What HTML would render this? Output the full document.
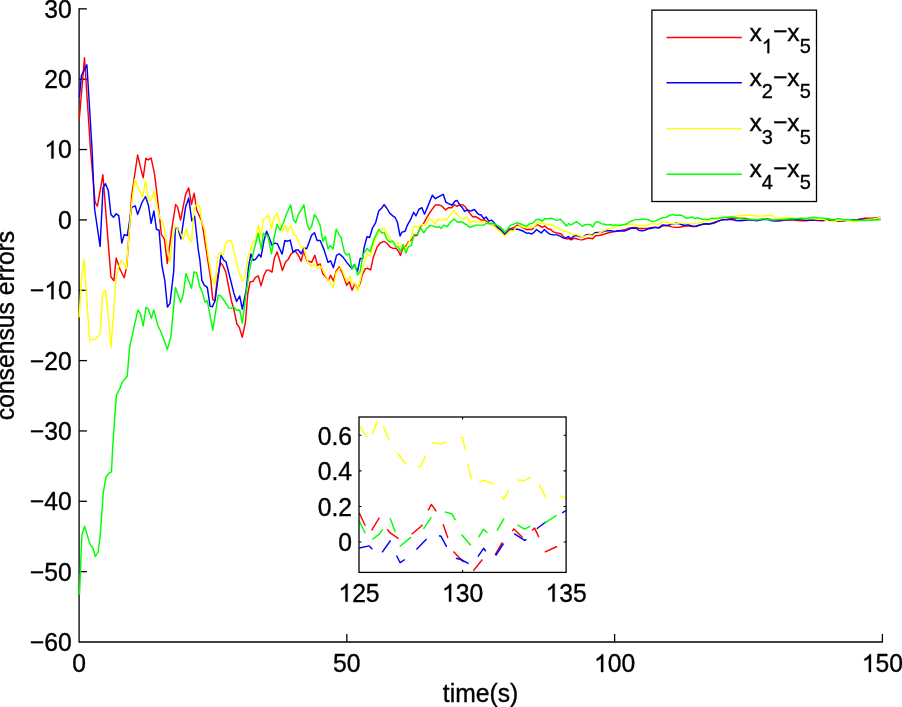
<!DOCTYPE html><html><head><meta charset="utf-8"><style>html,body{margin:0;padding:0;background:#fff;overflow:hidden}svg{display:block;will-change:transform}text{font-family:"Liberation Sans",sans-serif;fill:#000;stroke:#000;stroke-width:0.35px}</style></head><body>
<svg width="902" height="707" viewBox="0 0 902 707">
<rect width="902" height="707" fill="#fff"/>
<g stroke="#000" stroke-width="1.30" fill="none">
<path d="M79.10 8.25V642.00H882.90"/>
</g><g stroke="#000" stroke-width="1.3" fill="none">
<path d="M79.10 8.85H86.90"/>
<path d="M79.10 79.20H86.90"/>
<path d="M79.10 149.55H86.90"/>
<path d="M79.10 219.90H86.90"/>
<path d="M79.10 290.25H86.90"/>
<path d="M79.10 360.60H86.90"/>
<path d="M79.10 430.95H86.90"/>
<path d="M79.10 501.30H86.90"/>
<path d="M79.10 571.65H86.90"/>
<path d="M346.83 642.00V634.00"/>
<path d="M614.62 642.00V634.00"/>
<path d="M882.40 642.00V634.00"/>
</g>
<polyline points="79.4,117.7 84.5,57.8 90.5,150.0 95.1,202.4 97.4,206.1 102.9,174.8 110.9,276.7 113.9,280.7 116.2,257.9 119.8,268.8 124.2,277.7 126.7,266.8 131.7,195.5 137.6,155.0 141.6,171.8 143.2,177.7 145.9,158.3 148.5,159.9 151.1,157.9 154.5,173.8 157.4,197.5 159.8,219.5 161.4,234.7 164.4,239.1 167.3,263.4 172.3,225.7 175.6,204.5 177.5,206.9 180.6,220.1 185.6,194.4 188.7,187.9 191.5,204.5 194.1,193.2 196.7,210.0 201.9,221.6 207.3,257.1 210.7,278.9 212.8,299.9 214.8,300.7 217.4,278.1 220.5,262.6 222.9,265.7 225.7,271.9 228.3,285.1 231.4,300.7 233.8,309.2 236.9,324.0 239.2,327.1 242.3,337.2 245.4,322.4 247.8,293.7 250.1,282.0 253.2,281.2 255.5,277.3 258.3,275.8 261.0,285.9 264.1,275.0 266.6,270.1 268.9,270.1 272.0,272.1 274.3,258.4 277.1,251.9 279.8,260.8 282.4,270.6 285.5,262.3 288.3,259.2 291.1,253.8 295.3,251.0 298.4,255.3 301.1,261.2 303.6,251.4 307.0,260.8 310.1,261.8 311.7,262.3 314.8,255.3 317.6,265.4 320.2,263.9 322.9,274.0 325.7,276.8 328.5,280.2 330.6,275.2 333.4,281.0 336.2,270.9 339.3,267.0 342.8,274.0 346.6,285.2 349.3,281.8 352.1,290.3 354.9,283.3 357.5,289.5 360.3,283.0 362.3,274.9 365.4,268.6 367.8,268.3 370.6,269.9 373.2,257.8 377.1,246.9 380.2,243.0 384.1,241.4 386.7,243.0 390.3,247.2 393.0,248.4 396.1,248.1 398.6,251.5 400.4,255.4 402.8,248.4 405.9,246.1 408.2,242.2 411.3,239.9 414.1,235.7 417.2,235.2 420.7,226.3 423.8,223.2 426.9,217.3 430.8,211.1 435.4,204.9 439.3,204.9 442.4,206.4 445.5,209.9 448.6,207.7 451.8,207.7 454.1,204.6 457.2,206.4 459.7,204.6 462.8,204.9 465.1,206.7 467.1,209.5 469.8,213.4 472.9,217.0 475.2,216.5 478.3,218.1 481.4,220.1 484.5,219.7 487.7,222.3 490.0,223.9 492.3,225.1 495.4,225.9 498.5,228.5 501.7,231.3 504.5,233.7 507.9,229.8 511.0,228.5 514.1,227.4 517.2,225.1 520.3,226.3 523.4,228.2 526.5,229.5 529.3,229.5 532.0,229.5 534.3,227.4 537.1,224.3 539.8,225.9 542.1,227.4 544.9,225.9 547.5,228.5 550.6,229.5 552.8,231.6 555.5,232.7 558.3,233.2 561.1,234.0 563.9,236.9 566.6,239.1 568.8,238.5 571.3,239.9 573.8,238.2 576.6,238.8 579.4,239.6 582.2,239.9 585.5,238.8 588.8,238.0 592.7,238.8 595.5,235.8 598.8,235.5 602.1,234.7 605.4,233.8 608.8,232.7 612.1,232.1 615.4,231.6 618.7,230.7 622.1,230.3 625.4,229.4 628.7,228.3 632.0,227.7 635.4,227.4 638.7,228.3 642.0,228.5 645.3,228.5 648.3,228.3 651.7,227.4 655.0,227.2 658.9,228.0 662.7,225.8 667.2,225.5 671.6,226.9 676.0,227.4 679.4,227.2 683.8,226.3 688.2,225.8 692.7,226.6 696.0,226.6 700.4,224.9 704.9,224.0 709.3,224.0 713.7,223.3 718.2,221.1 722.6,219.6 727.0,219.2 731.5,218.5 735.9,218.5 740.3,218.3 745.5,218.5 751.1,219.6 756.6,220.3 762.2,219.4 767.7,218.8 773.3,220.3 778.8,221.1 784.3,220.3 789.9,219.6 795.4,220.3 801.0,220.7 806.5,220.7 812.1,219.9 817.6,220.5 823.1,220.7 828.7,219.9 834.2,220.3 838.6,221.4 845.0,220.5 852.0,219.8 858.0,219.5 864.6,218.3 871.3,218.3 879.9,217.4" fill="none" stroke="#f00" stroke-width="1.45" stroke-linejoin="round" stroke-linecap="round"/>
<polyline points="79.4,96.7 81.4,75.7 86.9,64.8 92.1,150.0 94.6,209.0 100.1,246.4 103.0,187.6 105.5,183.7 108.3,190.6 110.9,214.4 113.5,217.3 116.2,213.8 118.8,215.7 121.8,243.1 124.2,234.8 127.3,235.5 131.7,207.4 135.2,205.8 137.6,214.4 142.0,202.5 145.5,196.5 148.5,205.4 151.1,223.3 153.9,211.0 156.4,229.2 159.1,230.2 161.9,265.5 164.8,280.3 167.4,307.0 170.0,303.3 173.7,271.4 175.3,228.7 177.8,227.9 180.9,238.8 185.6,206.9 188.7,197.9 191.8,220.9 194.6,216.2 198.3,250.0 199.9,260.2 201.9,280.4 204.2,285.1 207.3,287.4 210.1,306.1 212.3,306.9 215.1,300.7 221.0,255.2 223.7,260.2 226.0,261.8 229.9,277.3 233.8,292.9 236.6,301.4 239.7,296.0 242.3,309.2 246.2,289.8 248.5,267.2 250.9,254.0 253.2,260.2 255.5,259.4 259.0,254.3 261.0,257.1 264.1,240.0 266.6,231.2 268.9,236.7 272.0,245.2 274.6,243.1 277.4,243.7 282.1,254.1 284.9,240.5 287.6,241.3 290.2,240.1 293.0,252.2 296.1,249.9 298.4,249.9 301.1,253.8 303.9,247.9 306.7,248.8 311.7,235.1 314.5,232.8 317.1,240.5 320.2,240.5 324.1,249.9 328.0,262.3 330.6,260.8 333.4,267.8 336.5,255.3 339.3,253.8 342.8,256.9 347.4,263.1 351.8,268.5 354.4,264.7 357.5,271.6 360.2,258.4 362.7,258.4 363.9,248.4 367.0,236.8 369.6,237.5 372.4,228.2 375.6,222.8 378.7,211.1 381.8,208.0 384.1,204.6 386.7,208.0 389.9,213.4 392.7,215.8 395.0,217.3 397.3,222.0 400.1,236.0 402.0,232.1 405.1,231.3 407.4,225.1 410.5,219.7 413.7,212.3 416.0,215.8 418.8,209.5 421.9,207.7 424.5,214.2 428.4,204.9 432.3,195.2 435.4,198.7 439.3,196.3 443.2,194.3 445.8,202.1 448.6,203.6 451.8,205.2 455.2,201.0 457.2,200.5 459.7,204.9 462.0,207.2 464.6,211.4 467.4,209.9 470.6,211.1 474.4,209.5 478.3,214.2 481.1,215.0 483.8,218.6 486.1,217.0 488.9,221.2 491.5,220.1 494.2,222.8 497.0,226.7 500.1,229.0 502.4,231.3 504.8,234.4 507.1,232.6 509.7,229.8 512.9,229.5 516.0,229.0 518.8,229.5 523.4,231.3 526.5,233.2 528.9,232.9 531.5,234.1 534.3,232.1 536.6,229.5 539.0,231.3 541.3,232.9 544.4,229.5 547.5,232.6 550.6,234.4 553.3,234.7 556.7,234.9 560.0,236.2 562.7,237.7 565.5,238.2 568.3,236.6 571.1,238.8 573.8,236.0 576.6,235.5 579.9,236.6 583.3,236.6 586.6,234.7 589.4,234.4 592.1,235.5 594.9,232.7 597.7,232.5 601.0,232.5 604.3,231.0 607.6,230.7 611.0,230.7 614.3,231.4 617.6,230.7 621.0,231.0 624.3,231.0 627.6,229.9 630.9,228.3 634.3,228.0 636.5,228.3 638.7,230.3 642.0,230.7 645.3,230.2 648.3,228.8 651.7,228.3 655.0,227.4 658.9,227.7 662.7,224.9 667.2,225.5 671.6,224.4 676.0,223.3 679.4,223.8 683.8,225.2 688.2,224.7 692.7,226.3 696.0,226.3 700.4,224.7 704.9,223.8 709.3,224.0 713.7,222.7 718.2,221.1 722.6,219.6 727.0,219.9 731.5,219.2 735.9,220.5 740.3,220.8 745.5,220.3 751.1,219.9 756.6,220.7 762.2,219.6 767.7,219.6 773.3,221.1 778.8,220.5 784.3,219.6 789.9,219.9 795.4,219.6 801.0,219.6 806.5,220.3 812.1,220.3 817.6,219.9 823.1,220.3 828.7,220.3 834.2,219.9 840.0,220.7 850.0,220.3 863.3,219.3 879.9,219.4" fill="none" stroke="#00f" stroke-width="1.45" stroke-linejoin="round" stroke-linecap="round"/>
<polyline points="79.1,316.9 81.9,274.9 84.2,259.3 86.9,301.3 89.7,340.2 91.6,339.9 95.0,339.4 100.1,334.0 102.7,292.8 105.5,290.4 107.9,312.2 111.0,347.2 116.1,278.0 118.8,266.3 121.4,260.6 124.2,264.0 126.5,268.7 129.7,224.7 131.7,203.5 134.8,179.5 142.6,197.5 145.5,180.7 148.6,200.5 151.1,200.5 153.9,191.2 157.4,207.4 160.0,218.4 161.4,219.8 164.4,227.7 166.9,244.6 169.8,261.9 172.8,236.6 175.3,226.2 179.3,230.2 183.2,239.5 186.3,228.3 188.7,238.0 191.5,241.9 194.1,208.4 196.7,204.5 199.5,206.1 201.9,222.4 204.5,228.6 208.1,255.6 211.7,277.3 215.1,285.1 218.2,254.8 220.5,252.4 223.2,254.8 225.7,243.1 227.5,240.8 231.4,240.8 235.3,257.1 238.4,270.3 242.3,281.2 245.4,275.0 247.8,257.1 250.1,252.4 252.8,241.8 255.5,240.0 258.3,225.2 261.0,236.4 263.3,219.3 265.0,218.0 268.9,215.2 271.5,228.9 274.3,217.2 277.1,212.6 279.8,222.7 282.4,230.4 284.9,225.5 287.6,231.7 290.7,225.5 293.8,235.1 296.1,235.9 300.8,246.8 303.9,246.8 305.7,255.3 308.2,263.1 311.3,266.5 314.5,264.3 317.9,268.5 321.0,266.2 324.1,272.4 327.2,278.6 330.0,281.8 333.1,288.0 336.2,272.4 338.9,269.3 341.2,267.4 344.3,275.5 346.6,281.8 349.8,276.3 352.1,284.1 354.9,283.0 357.5,291.1 361.0,277.0 363.9,264.0 367.0,254.3 370.1,255.9 373.2,245.3 376.3,236.8 379.9,231.3 384.1,227.9 386.7,233.7 389.9,239.1 392.7,241.4 395.0,244.5 397.3,242.5 400.1,246.9 402.3,245.0 405.9,248.4 409.5,241.0 411.6,236.3 413.7,226.3 416.8,227.0 419.9,225.9 422.2,224.3 425.3,225.1 429.2,218.6 432.3,220.7 435.4,223.9 437.8,218.9 440.9,220.4 444.0,218.9 446.3,220.4 449.4,216.1 453.6,210.3 457.3,215.0 460.4,217.3 463.6,218.9 467.1,216.5 469.8,222.8 472.4,221.2 476.0,221.7 479.9,222.0 483.0,222.3 486.1,222.8 488.4,223.5 491.5,224.3 494.7,226.7 497.0,229.5 500.1,231.3 502.4,233.7 504.8,236.3 507.9,232.9 510.7,230.5 513.8,231.0 516.4,226.7 520.3,225.9 523.4,227.4 527.3,227.4 531.2,226.7 534.3,227.4 536.6,223.5 539.8,223.2 543.3,223.5 546.8,224.3 550.3,224.6 553.3,225.5 556.7,227.4 560.0,229.4 563.3,231.0 566.6,231.6 569.4,232.7 572.7,234.4 576.1,234.4 578.8,235.5 582.7,236.9 586.6,235.8 589.9,234.9 592.1,236.6 594.9,234.0 597.7,233.6 601.0,232.1 604.3,230.3 607.6,229.1 611.0,228.3 614.3,227.2 617.6,225.8 621.0,224.4 623.2,224.4 626.5,224.9 629.8,224.0 633.1,224.4 635.9,224.9 638.7,225.8 642.0,225.8 645.3,225.5 648.3,224.7 651.7,223.6 655.0,223.8 658.3,224.9 662.7,221.6 667.2,222.2 671.6,223.8 676.0,223.6 680.5,222.9 684.9,223.6 689.3,223.6 693.8,224.0 698.2,223.3 702.6,221.6 707.1,221.1 711.5,220.3 716.0,219.6 720.4,218.5 724.8,217.4 729.3,216.6 733.7,216.6 738.1,215.8 741.5,215.5 745.5,215.5 751.1,215.0 756.6,216.3 762.2,216.1 767.7,215.5 772.2,215.5 775.5,217.7 779.9,218.1 784.3,217.7 789.9,217.4 795.4,218.1 801.0,218.5 806.5,218.8 812.1,218.3 817.6,219.2 823.1,219.4 828.7,221.1 834.2,221.6 836.7,220.0 843.3,220.3 850.0,220.6 853.3,222.0 860.0,220.6 866.6,219.6 873.2,219.0 879.9,217.6" fill="none" stroke="#ff0" stroke-width="1.45" stroke-linejoin="round" stroke-linecap="round"/>
<polyline points="79.5,594.1 81.9,534.8 84.6,526.2 90.0,544.1 92.8,548.0 95.4,556.5 98.1,551.9 100.1,537.1 101.7,515.3 103.2,493.5 105.9,477.2 108.7,473.3 111.5,471.8 112.5,450.0 114.9,415.3 116.4,395.1 120.0,388.3 122.3,382.1 127.2,376.3 129.6,347.1 130.1,344.9 137.9,309.9 140.5,313.8 143.2,325.9 146.0,307.5 148.3,308.8 151.4,318.4 153.8,309.9 157.6,324.7 161.5,333.2 167.4,349.4 170.9,337.1 175.4,287.4 180.6,302.2 183.2,294.4 186.0,273.4 191.5,288.2 194.1,271.9 196.7,272.7 199.5,285.9 202.3,292.1 205.0,302.2 207.3,300.7 212.8,330.2 218.2,295.2 220.5,295.7 224.4,300.7 228.8,308.1 231.4,308.4 233.5,306.6 236.6,310.3 239.7,310.0 242.3,323.2 246.2,292.9 249.3,271.1 252.4,257.1 254.0,250.0 258.3,233.3 261.3,249.0 263.3,233.3 265.0,235.1 268.1,236.7 271.5,253.8 274.3,236.7 277.1,224.5 280.2,230.1 283.4,222.7 286.8,213.3 290.7,204.8 293.3,219.5 295.8,222.7 298.4,214.1 301.1,210.2 303.9,204.8 307.0,223.4 309.3,229.7 311.7,226.1 314.5,214.6 317.1,218.3 320.2,225.8 322.9,241.3 325.3,236.7 328.0,248.8 330.3,245.7 333.1,249.1 336.2,229.2 338.9,234.3 341.2,237.9 344.3,252.2 346.6,255.0 349.3,253.8 352.1,269.3 354.9,264.3 357.5,274.8 360.0,272.0 363.1,254.6 367.0,248.4 370.1,251.5 374.0,239.1 378.7,229.5 381.8,232.9 384.1,232.6 387.2,239.9 390.3,242.2 392.7,241.0 395.5,246.1 398.1,246.9 400.7,251.5 403.2,244.5 405.9,253.1 408.5,246.6 411.3,245.6 414.1,234.4 417.2,234.1 420.7,227.9 423.8,232.9 426.9,228.2 430.0,225.4 433.1,225.9 436.2,227.4 439.3,226.7 441.2,228.5 443.7,225.1 447.1,226.7 450.5,222.3 454.1,218.9 457.3,222.0 461.2,221.7 464.3,223.5 467.1,225.1 469.8,227.4 472.9,226.3 476.0,225.1 479.9,225.1 483.8,225.1 486.1,223.5 489.2,223.2 493.1,223.5 496.2,224.8 499.3,226.3 502.4,229.0 504.8,232.1 507.6,229.5 510.2,225.4 513.3,224.3 516.4,222.8 519.5,223.5 523.4,225.1 526.5,226.3 529.3,223.9 532.8,223.2 535.9,219.7 539.0,219.2 542.1,221.2 544.9,218.6 548.3,218.9 550.0,218.3 553.3,218.8 556.1,220.5 558.3,219.9 560.5,219.2 563.3,222.2 566.4,226.0 568.8,223.6 571.1,224.9 573.8,223.3 576.6,221.6 579.4,223.8 582.2,226.3 584.9,224.7 587.7,224.4 590.5,224.4 592.7,226.9 595.5,222.2 598.2,221.6 601.0,223.6 603.8,224.0 606.5,224.9 609.9,224.7 612.6,225.2 615.4,224.9 619.8,225.5 623.2,224.7 626.5,224.0 629.8,221.6 632.6,220.7 635.9,219.4 638.7,219.9 642.0,219.2 645.3,219.2 648.3,219.6 652.2,221.6 656.1,220.7 659.4,219.2 662.7,217.7 666.1,217.4 669.4,215.5 672.7,214.4 676.0,215.5 680.5,215.0 683.2,216.1 686.6,218.3 689.3,217.7 692.1,217.0 694.9,218.5 697.7,217.7 701.5,219.2 704.9,219.2 708.2,219.6 711.5,218.1 714.8,218.5 718.2,218.1 721.5,217.7 724.8,217.2 728.1,217.2 731.5,217.0 734.8,217.2 738.1,218.3 741.5,218.8 745.5,219.4 751.1,219.2 756.6,220.0 762.2,218.8 767.7,219.2 773.3,220.0 778.8,219.6 784.3,219.2 789.9,218.8 795.4,218.8 801.0,218.3 806.5,218.5 813.2,217.2 817.6,217.7 823.1,218.1 828.7,218.8 833.1,220.3 836.5,218.8 840.0,218.6 843.3,220.0 850.0,219.6 853.3,220.3 856.6,220.1 863.3,220.6 869.9,220.3 879.9,219.8" fill="none" stroke="#0f0" stroke-width="1.45" stroke-linejoin="round" stroke-linecap="round"/>
<text transform="translate(44.33 17.75) scale(1 1.040)" font-size="24.7">3</text><text transform="translate(58.06 17.75) scale(1 1.040)" font-size="24.7">0</text>
<text transform="translate(44.33 88.10) scale(1 1.040)" font-size="24.7">2</text><text transform="translate(58.06 88.10) scale(1 1.040)" font-size="24.7">0</text>
<path transform="translate(44.33 158.45) scale(0.01206 -0.01206)" d="M763 0L583 0L583 1147C540 1106 483 1064 413 1023C343 982 280 951 223 930L223 1104C324 1151 412 1208 487 1276C562 1343 615 1409 646 1472L763 1472Z" stroke="#000" stroke-width="29.0"/><text transform="translate(58.06 158.45) scale(1 1.040)" font-size="24.7">0</text>
<text transform="translate(58.06 228.80) scale(1 1.040)" font-size="24.7">0</text>
<text transform="translate(29.90 299.15) scale(1 1.040)" font-size="24.7">−</text><path transform="translate(44.33 299.15) scale(0.01206 -0.01206)" d="M763 0L583 0L583 1147C540 1106 483 1064 413 1023C343 982 280 951 223 930L223 1104C324 1151 412 1208 487 1276C562 1343 615 1409 646 1472L763 1472Z" stroke="#000" stroke-width="29.0"/><text transform="translate(58.06 299.15) scale(1 1.040)" font-size="24.7">0</text>
<text transform="translate(29.90 369.50) scale(1 1.040)" font-size="24.7">−</text><text transform="translate(44.33 369.50) scale(1 1.040)" font-size="24.7">2</text><text transform="translate(58.06 369.50) scale(1 1.040)" font-size="24.7">0</text>
<text transform="translate(29.90 439.85) scale(1 1.040)" font-size="24.7">−</text><text transform="translate(44.33 439.85) scale(1 1.040)" font-size="24.7">3</text><text transform="translate(58.06 439.85) scale(1 1.040)" font-size="24.7">0</text>
<text transform="translate(29.90 510.20) scale(1 1.040)" font-size="24.7">−</text><text transform="translate(44.33 510.20) scale(1 1.040)" font-size="24.7">4</text><text transform="translate(58.06 510.20) scale(1 1.040)" font-size="24.7">0</text>
<text transform="translate(29.90 580.55) scale(1 1.040)" font-size="24.7">−</text><text transform="translate(44.33 580.55) scale(1 1.040)" font-size="24.7">5</text><text transform="translate(58.06 580.55) scale(1 1.040)" font-size="24.7">0</text>
<text transform="translate(29.90 650.90) scale(1 1.040)" font-size="24.7">−</text><text transform="translate(44.33 650.90) scale(1 1.040)" font-size="24.7">6</text><text transform="translate(58.06 650.90) scale(1 1.040)" font-size="24.7">0</text>
<text transform="translate(72.18 672.00) scale(1 1.040)" font-size="24.7">0</text>
<text transform="translate(333.10 672.00) scale(1 1.040)" font-size="24.7">5</text><text transform="translate(346.83 672.00) scale(1 1.040)" font-size="24.7">0</text>
<path transform="translate(594.01 672.00) scale(0.01206 -0.01206)" d="M763 0L583 0L583 1147C540 1106 483 1064 413 1023C343 982 280 951 223 930L223 1104C324 1151 412 1208 487 1276C562 1343 615 1409 646 1472L763 1472Z" stroke="#000" stroke-width="29.0"/><text transform="translate(607.75 672.00) scale(1 1.040)" font-size="24.7">0</text><text transform="translate(621.49 672.00) scale(1 1.040)" font-size="24.7">0</text>
<path transform="translate(861.79 672.00) scale(0.01206 -0.01206)" d="M763 0L583 0L583 1147C540 1106 483 1064 413 1023C343 982 280 951 223 930L223 1104C324 1151 412 1208 487 1276C562 1343 615 1409 646 1472L763 1472Z" stroke="#000" stroke-width="29.0"/><text transform="translate(875.53 672.00) scale(1 1.040)" font-size="24.7">5</text><text transform="translate(889.27 672.00) scale(1 1.040)" font-size="24.7">0</text>
<text transform="translate(480.50 702.00) scale(1 1.040)" font-size="24.7" text-anchor="middle">time(s)</text>
<text font-size="24.7" transform="translate(14.2,325.5) rotate(-90) scale(1 1.040)" text-anchor="middle">consensus errors</text>
<rect x="651.9" y="10.12" width="164.6" height="191.4" fill="#fff" stroke="#000" stroke-width="1.3"/>
<line x1="666.5" x2="741.8" y1="37.5" y2="37.5" stroke="#f00" stroke-width="1.4"/>
<text transform="translate(749.40 40.70) scale(1 1.000)" font-size="24.7">x</text>
<path transform="translate(761.75 53.18) scale(0.00977 -0.00977)" d="M763 0L583 0L583 1147C540 1106 483 1064 413 1023C343 982 280 951 223 930L223 1104C324 1151 412 1208 487 1276C562 1343 615 1409 646 1472L763 1472Z" stroke="#000" stroke-width="35.8"/>
<text transform="translate(773.27 40.40) scale(1 1.040)" font-size="24.7">−</text>
<text transform="translate(787.30 40.70) scale(1 1.000)" font-size="24.7">x</text>
<text transform="translate(799.65 53.18) scale(1 1.040)" font-size="20">5</text>
<line x1="666.5" x2="741.8" y1="82.8" y2="82.8" stroke="#00f" stroke-width="1.4"/>
<text transform="translate(749.40 85.90) scale(1 1.000)" font-size="24.7">x</text>
<text transform="translate(761.75 98.38) scale(1 1.040)" font-size="20">2</text>
<text transform="translate(773.27 85.60) scale(1 1.040)" font-size="24.7">−</text>
<text transform="translate(787.30 85.90) scale(1 1.000)" font-size="24.7">x</text>
<text transform="translate(799.65 98.38) scale(1 1.040)" font-size="20">5</text>
<line x1="666.5" x2="741.8" y1="128.6" y2="128.6" stroke="#ff0" stroke-width="1.4"/>
<text transform="translate(749.40 131.20) scale(1 1.000)" font-size="24.7">x</text>
<text transform="translate(761.75 143.68) scale(1 1.040)" font-size="20">3</text>
<text transform="translate(773.27 130.90) scale(1 1.040)" font-size="24.7">−</text>
<text transform="translate(787.30 131.20) scale(1 1.000)" font-size="24.7">x</text>
<text transform="translate(799.65 143.68) scale(1 1.040)" font-size="20">5</text>
<line x1="666.5" x2="741.8" y1="174.2" y2="174.2" stroke="#0f0" stroke-width="1.4"/>
<text transform="translate(749.40 176.90) scale(1 1.000)" font-size="24.7">x</text>
<text transform="translate(761.75 189.38) scale(1 1.040)" font-size="20">4</text>
<text transform="translate(773.27 176.60) scale(1 1.040)" font-size="24.7">−</text>
<text transform="translate(787.30 176.90) scale(1 1.000)" font-size="24.7">x</text>
<text transform="translate(799.65 189.38) scale(1 1.040)" font-size="20">5</text>
<rect x="359.0" y="417.0" width="207.1" height="155.4" fill="#fff"/>
<defs><clipPath id="ic"><rect x="359.0" y="417.0" width="207.1" height="155.4"/></clipPath></defs>
<g clip-path="url(#ic)" fill="none" stroke-width="1.45" stroke-linecap="butt" stroke-linejoin="round">
<polyline points="359.2,512.8 365.2,525.8" stroke="#f00"/>
<polyline points="371.6,530.3 379.4,517.7" stroke="#f00"/>
<polyline points="387.2,529.1 389.9,532.7 398.5,538.7" stroke="#f00"/>
<polyline points="411.6,534.2 420.6,526.7 422.4,524.6" stroke="#f00"/>
<polyline points="428.2,510.4 431.4,504.4 436.3,511.4" stroke="#f00"/>
<polyline points="443.1,524.3 447.9,537.9" stroke="#f00"/>
<polyline points="453.4,551.6 463.5,562.1" stroke="#f00"/>
<polyline points="473.4,570.8 482.4,559.5" stroke="#f00"/>
<polyline points="495.1,554.9 502.3,542.3" stroke="#f00"/>
<polyline points="512.3,530.9 513.9,529.1 522.6,537.5" stroke="#f00"/>
<polyline points="532.1,530.5 534.6,528.1 538.9,537.3" stroke="#f00"/>
<polyline points="544.8,552.1 557.0,546.5" stroke="#f00"/>
<polyline points="359.2,548.0 369.2,545.9 372.4,549.2" stroke="#00f"/>
<polyline points="382.1,552.3 390.5,540.5" stroke="#00f"/>
<polyline points="396.5,555.5 400.1,562.7 404.9,559.5" stroke="#00f"/>
<polyline points="416.4,549.5 426.6,539.1" stroke="#00f"/>
<polyline points="439.0,535.7 441.1,536.3 446.7,546.8" stroke="#00f"/>
<polyline points="455.9,558.3 460.9,559.5 468.6,563.6" stroke="#00f"/>
<polyline points="477.9,556.7 483.6,548.3 485.8,551.3" stroke="#00f"/>
<polyline points="495.7,555.5 503.5,543.5" stroke="#00f"/>
<polyline points="514.1,533.7 524.7,540.4 526.4,539.4" stroke="#00f"/>
<polyline points="536.8,528.8 546.0,521.7" stroke="#00f"/>
<polyline points="562.2,512.9 565.8,510.7" stroke="#00f"/>
<polyline points="359.3,424.9 366.6,437.4" stroke="#ff0"/>
<polyline points="372.1,434.4 377.8,420.7" stroke="#ff0"/>
<polyline points="383.3,426.5 389.1,439.9" stroke="#ff0"/>
<polyline points="397.1,452.7 406.0,464.3" stroke="#ff0"/>
<polyline points="417.8,467.1 420.9,466.1 425.7,455.4" stroke="#ff0"/>
<polyline points="432.1,442.7 441.6,443.9 446.2,441.7" stroke="#ff0"/>
<polyline points="460.4,437.4 462.4,437.4 465.2,449.8" stroke="#ff0"/>
<polyline points="467.8,464.2 471.3,478.9" stroke="#ff0"/>
<polyline points="479.2,482.4 483.3,480.1 493.3,483.7" stroke="#ff0"/>
<polyline points="501.7,496.0 503.8,499.4 508.9,490.0" stroke="#ff0"/>
<polyline points="517.4,480.0 524.5,480.7 530.7,477.1" stroke="#ff0"/>
<polyline points="539.2,484.6 545.7,497.6" stroke="#ff0"/>
<polyline points="559.4,495.5 565.8,498.3" stroke="#ff0"/>
<polyline points="359.2,520.7 365.2,533.3" stroke="#0f0"/>
<polyline points="372.4,539.5 379.6,533.9 382.7,529.1" stroke="#0f0"/>
<polyline points="390.1,518.3 395.3,532.1" stroke="#0f0"/>
<polyline points="399.7,546.5 411.0,537.1" stroke="#0f0"/>
<polyline points="423.4,529.1 431.4,517.1" stroke="#0f0"/>
<polyline points="444.7,511.9 451.9,513.8 455.5,520.1" stroke="#0f0"/>
<polyline points="461.5,534.5 470.7,545.3" stroke="#0f0"/>
<polyline points="478.6,537.1 483.4,529.4 487.5,532.7" stroke="#0f0"/>
<polyline points="497.1,530.6 504.1,518.3" stroke="#0f0"/>
<polyline points="517.4,524.8 524.7,529.1 530.4,526.2" stroke="#0f0"/>
<polyline points="544.8,522.8 556.6,515.3" stroke="#0f0"/>
</g>
<rect x="359.0" y="417.0" width="207.1" height="155.4" fill="none" stroke="#000" stroke-width="1.30"/>
<g stroke="#000" stroke-width="1.1">
<path d="M359.00 542.00h2.50M566.10 542.00h-2.50"/>
<path d="M359.00 506.44h2.50M566.10 506.44h-2.50"/>
<path d="M359.00 470.88h2.50M566.10 470.88h-2.50"/>
<path d="M359.00 435.32h2.50M566.10 435.32h-2.50"/>
<path d="M462.55 572.40v-2.50M462.55 417.00v2.50"/>
</g>
<text transform="translate(338.26 551.20) scale(1 1.040)" font-size="24.7">0</text>
<text transform="translate(317.66 515.64) scale(1 1.040)" font-size="24.7">0</text><text transform="translate(331.40 515.64) scale(1 1.040)" font-size="24.7">.</text><text transform="translate(338.26 515.64) scale(1 1.040)" font-size="24.7">2</text>
<text transform="translate(317.66 480.08) scale(1 1.040)" font-size="24.7">0</text><text transform="translate(331.40 480.08) scale(1 1.040)" font-size="24.7">.</text><text transform="translate(338.26 480.08) scale(1 1.040)" font-size="24.7">4</text>
<text transform="translate(317.66 444.52) scale(1 1.040)" font-size="24.7">0</text><text transform="translate(331.40 444.52) scale(1 1.040)" font-size="24.7">.</text><text transform="translate(338.26 444.52) scale(1 1.040)" font-size="24.7">6</text>
<path transform="translate(338.39 601.60) scale(0.01206 -0.01206)" d="M763 0L583 0L583 1147C540 1106 483 1064 413 1023C343 982 280 951 223 930L223 1104C324 1151 412 1208 487 1276C562 1343 615 1409 646 1472L763 1472Z" stroke="#000" stroke-width="29.0"/><text transform="translate(352.13 601.60) scale(1 1.040)" font-size="24.7">2</text><text transform="translate(365.87 601.60) scale(1 1.040)" font-size="24.7">5</text>
<path transform="translate(441.94 601.60) scale(0.01206 -0.01206)" d="M763 0L583 0L583 1147C540 1106 483 1064 413 1023C343 982 280 951 223 930L223 1104C324 1151 412 1208 487 1276C562 1343 615 1409 646 1472L763 1472Z" stroke="#000" stroke-width="29.0"/><text transform="translate(455.68 601.60) scale(1 1.040)" font-size="24.7">3</text><text transform="translate(469.42 601.60) scale(1 1.040)" font-size="24.7">0</text>
<path transform="translate(545.49 601.60) scale(0.01206 -0.01206)" d="M763 0L583 0L583 1147C540 1106 483 1064 413 1023C343 982 280 951 223 930L223 1104C324 1151 412 1208 487 1276C562 1343 615 1409 646 1472L763 1472Z" stroke="#000" stroke-width="29.0"/><text transform="translate(559.23 601.60) scale(1 1.040)" font-size="24.7">3</text><text transform="translate(572.97 601.60) scale(1 1.040)" font-size="24.7">5</text>
</svg></body></html>
